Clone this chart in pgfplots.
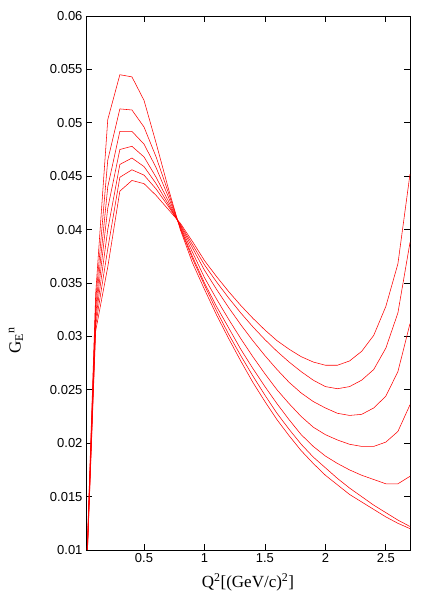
\documentclass[border=0pt]{standalone}
\usepackage{fontspec}
\setmainfont{Liberation Serif}
\newfontfamily\ticksf{Liberation Sans}
\usepackage{pgfplots}
\usepackage{pgfplotstable}
\usetikzlibrary{calc}
\pgfplotsset{compat=1.18}

% G_E^n curves, one column per parameter value, sampled every 0.1
\pgfplotstableread{
x    ga     gb     gc     gd     ge     gf     gg
0.0  0      0      0      0      0      0      0
0.1  0.0340 0.0333 0.0326 0.0320 0.0315 0.0310 0.0305
0.2  0.0503 0.0465 0.0440 0.0420 0.0400 0.0382 0.0365
0.3  0.0545 0.0513 0.0492 0.0475 0.0461 0.0449 0.0436
0.4  0.0543 0.0512 0.0492 0.0478 0.0467 0.0456 0.0446
0.5  0.0521 0.0496 0.0480 0.0468 0.0459 0.0451 0.0443
0.6  0.0481 0.0468 0.0458 0.0449 0.0443 0.0438 0.0432
0.7  0.0439 0.0435 0.0431 0.0427 0.0424 0.0422 0.0419
0.8  0.0400 0.0401 0.0402 0.0403 0.0404 0.0405 0.0406
0.9  0.0369 0.0373 0.0375 0.0379 0.0383 0.0386 0.0389
1.0  0.0344 0.0348 0.0350 0.0355 0.0362 0.0367 0.0371
1.1  0.0320 0.0324 0.0328 0.0335 0.0344 0.0351 0.0356
1.2  0.0298 0.0302 0.0308 0.0316 0.0327 0.0336 0.0342
1.3  0.0277 0.0282 0.0288 0.0298 0.0311 0.0322 0.0329
1.4  0.0257 0.0263 0.0270 0.0281 0.0296 0.0309 0.0317
1.5  0.0239 0.0245 0.0253 0.0265 0.0282 0.0297 0.0306
1.6  0.0222 0.0228 0.0237 0.0250 0.0269 0.0286 0.0296
1.7  0.0207 0.0213 0.0222 0.0237 0.0257 0.0276 0.0288
1.8  0.0193 0.0199 0.0208 0.0225 0.0247 0.0267 0.0281
1.9  0.0181 0.0187 0.0197 0.0215 0.0239 0.0259 0.0276
2.0  0.0170 0.0177 0.0188 0.0208 0.0233 0.0253 0.0273
2.1  0.0161 0.0167 0.0181 0.0203 0.0228 0.0251 0.0273
2.2  0.0152 0.0158 0.0175 0.0199 0.0226 0.0253 0.0277
2.3  0.0145 0.0150 0.0170 0.0197 0.0227 0.0259 0.0286
2.4  0.0138 0.0142 0.0166 0.0197 0.0233 0.0269 0.0301
2.5  0.0131 0.0135 0.0162 0.0201 0.0244 0.0289 0.0328
2.6  0.0125 0.0128 0.0162 0.0211 0.0267 0.0322 0.0368
2.7  0.0120 0.0122 0.0169 0.0236 0.0312 0.0388 0.0452
}\gendata

\begin{document}
\begin{tikzpicture}
\begin{axis}[
    scale only axis,
    width=324pt, height=534pt,
    xmin=0.02, xmax=2.7,
    ymin=0.01, ymax=0.06,
    xtick={0.5,1,1.5,2,2.5},
    ytick={0.01,0.015,0.02,0.025,0.03,0.035,0.04,0.045,0.05,0.055,0.06},
    scaled y ticks=false,
    yticklabel style={/pgf/number format/fixed, /pgf/number format/precision=3},
    tick label style={font=\ticksf\fontsize{13}{15}\selectfont, /pgf/number format/assume math mode=true},
    tick align=inside,
    major tick length=6pt,
    axis line style={line width=0.8pt},
    every tick/.style={black, line width=0.8pt},
    xlabel={Q\textsuperscript{2}[(GeV/c)\textsuperscript{2}]},
    ylabel={G\textsubscript{E}\textsuperscript{n}},
    label style={font=\fontsize{17}{19}\selectfont},
    xlabel style={at={(axis description cs:0.5,-0.06)}, anchor=center},
    ylabel style={at={(axis description cs:-0.216,0.393)}, anchor=center},
    curve/.style={red, solid, line width=0.55pt, mark=none},
]
\addplot[curve] table[x=x, y=ga] {\gendata};
\addplot[curve] table[x=x, y=gb] {\gendata};
\addplot[curve] table[x=x, y=gc] {\gendata};
\addplot[curve] table[x=x, y=gd] {\gendata};
\addplot[curve] table[x=x, y=ge] {\gendata};
\addplot[curve] table[x=x, y=gf] {\gendata};
\addplot[curve] table[x=x, y=gg] {\gendata};
\end{axis}
\pgfresetboundingbox
\path[use as bounding box] ($(current axis.south west)+(-86pt,-60pt)$) rectangle ($(current axis.north east)+(26pt,16pt)$);
\end{tikzpicture}
\end{document}
